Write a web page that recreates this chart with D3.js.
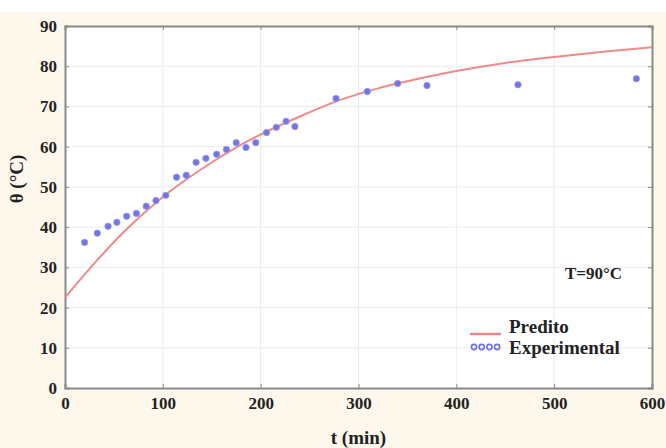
<!DOCTYPE html>
<html>
<head>
<meta charset="utf-8">
<script src="https://cdn.jsdelivr.net/npm/d3@7"></script>
<style>
  body { margin: 0; background: #fff; }
  text { font-family: "Liberation Serif", "DejaVu Serif", serif; font-weight: bold; fill: #222; }
</style>
</head>
<body>
<script>
// experimental points
var tExp = [20, 33, 44, 53, 63, 73, 83, 93, 103, 114, 124, 134, 144, 155, 165, 175, 185, 195, 206, 216, 226, 235, 277, 309, 340, 370, 463, 584];
var thetaExp = [36.2, 38.5, 40.2, 41.2, 42.7, 43.4, 45.2, 46.6, 47.9, 52.4, 52.9, 56.1, 57.1, 58.1, 59.3, 61, 59.8, 61, 63.5, 64.8, 66.3, 65, 72, 73.7, 75.7, 75.2, 75.4, 76.9];

// predicted curve
var tPred = [0, 30, 60, 100, 140, 180, 240, 280, 320, 360, 400, 450, 500, 550, 600];
var thetaPred = [22.5, 31, 38.8, 47.5, 54.5, 60.5, 67.5, 71.5, 74.5, 76.8, 78.8, 80.8, 82.3, 83.6, 84.7];

var xTicks = [0, 100, 200, 300, 400, 500, 600];
var yTicks = [0, 10, 20, 30, 40, 50, 60, 70, 80, 90];

var W = 666, H = 448;
var margin = {top: 26, right: 14, bottom: 60, left: 65};
var width = W - margin.left - margin.right,
    height = H - margin.top - margin.bottom;

var svg = d3.select("body").append("svg")
    .attr("width", W)
    .attr("height", H);

svg.append("rect").attr("x", 0).attr("y", 12).attr("width", W).attr("height", H - 12)
    .attr("fill", "#fdf7ec");

var g = svg.append("g")
    .attr("transform", "translate(" + margin.left + "," + margin.top + ")");

var x = d3.scaleLinear().domain([0, 600]).range([0, width]);
var y = d3.scaleLinear().domain([0, 90]).range([height, 0]);

g.append("rect").attr("width", width).attr("height", height).attr("fill", "#fff");

// grid
g.selectAll(".vgrid").data(xTicks.slice(1, -1)).enter().append("line")
    .attr("x1", x).attr("x2", x).attr("y1", 0).attr("y2", height)
    .attr("stroke", "#ececec");
g.selectAll(".hgrid").data(yTicks.slice(1, -1)).enter().append("line")
    .attr("y1", y).attr("y2", y).attr("x1", 0).attr("x2", width)
    .attr("stroke", "#ececec");

// axes
var xAxis = g.append("g").attr("transform", "translate(0," + height + ")")
    .call(d3.axisBottom(x).tickValues(xTicks).tickSize(-4).tickPadding(9));
var xTop = g.append("g")
    .call(d3.axisTop(x).tickValues(xTicks).tickSize(-4).tickFormat(""));
var yAxis = g.append("g")
    .call(d3.axisLeft(y).tickValues(yTicks).tickSize(-4).tickPadding(8));
var yRight = g.append("g").attr("transform", "translate(" + width + ",0)")
    .call(d3.axisRight(y).tickValues(yTicks).tickSize(-4).tickFormat(""));

[xAxis, xTop, yAxis, yRight].forEach(function(a) {
  a.select(".domain").attr("stroke", "#8a8a8a").attr("stroke-width", 2);
  a.selectAll(".tick line").attr("stroke", "#8a8a8a");
  a.selectAll("text").style("font-size", "17px")
    .style("font-family", "'Liberation Serif', serif").style("font-weight", "bold").attr("fill", "#222");
});

// predicted line
var line = d3.line()
    .x(function(d, i) { return x(tPred[i]); })
    .y(function(d) { return y(d); })
    .curve(d3.curveMonotoneX);

g.append("path")
    .datum(thetaPred)
    .attr("d", line)
    .attr("fill", "none")
    .attr("stroke", "#f08a8a")
    .attr("stroke-width", 2);

// experimental points
g.selectAll(".pt").data(thetaExp).enter().append("circle")
    .attr("cx", function(d, i) { return x(tExp[i]); })
    .attr("cy", function(d) { return y(d); })
    .attr("r", 3.2)
    .attr("fill", "#7275e2")
    .attr("stroke", "#9597ee")
    .attr("stroke-width", 0.8);

// annotation
g.append("text").attr("x", 622 - margin.left).attr("y", 279 - margin.top)
    .attr("text-anchor", "end").style("font-size", "17px").text("T=90°C");

// legend
var lg = g.append("g").attr("transform", "translate(" + (470 - margin.left) + "," + (334 - margin.top) + ")");
lg.append("line").attr("x1", 0).attr("x2", 31).attr("y1", 0).attr("y2", 0)
    .attr("stroke", "#f08a8a").attr("stroke-width", 2.5);
lg.append("text").attr("x", 39).attr("y", -1).style("font-size", "19px").text("Predito");
lg.selectAll(".ld").data([0, 1, 2, 3]).enter().append("circle")
    .attr("cx", function(d) { return 4 + d * 7.7; }).attr("cy", 13)
    .attr("r", 2.6).attr("fill", "none").attr("stroke", "#6f72e0").attr("stroke-width", 1.6);
lg.append("text").attr("x", 39).attr("y", 20).style("font-size", "19px").text("Experimental");

// axis titles
svg.append("text")
    .attr("x", margin.left + width / 2).attr("y", 444)
    .attr("text-anchor", "middle").style("font-size", "19px").text("t (min)");
svg.append("text")
    .attr("transform", "translate(23," + (margin.top + height / 2 - 28) + ") rotate(-90)")
    .attr("text-anchor", "middle").style("font-size", "19px").text("θ (°C)");
</script>
</body>
</html>
